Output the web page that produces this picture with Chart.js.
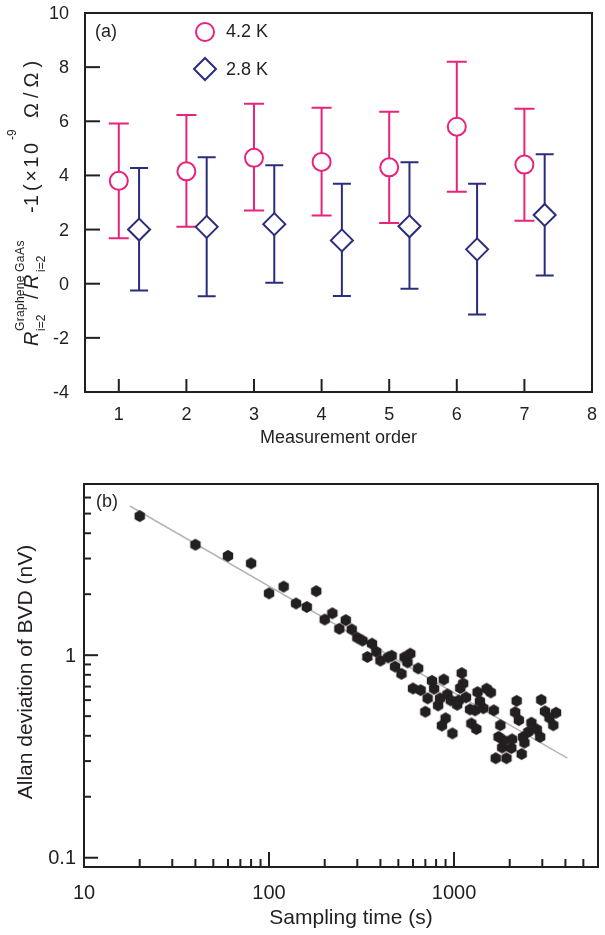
<!DOCTYPE html>
<html>
<head>
<meta charset="utf-8">
<script src="https://cdn.jsdelivr.net/npm/chart.js@4/dist/chart.umd.min.js"></script>
<style>
  html, body { margin: 0; padding: 0; background: #fff; }
  #wrap { position: relative; width: 605px; height: 935px; }
  canvas { position: absolute; left: 0; }
</style>
</head>
<body>
<div id="wrap">
  <canvas id="chartA" width="605" height="460" style="top:0"></canvas>
  <canvas id="chartB" width="605" height="475" style="top:460px"></canvas>
</div>
<script>
// ─────────────── DATA: panel (a) ───────────────
const order = [1, 2, 3, 4, 5, 6, 7];
const val42 = [3.8, 4.15, 4.65, 4.5, 4.3, 5.8, 4.4];
const hi42 = [5.92, 6.23, 6.65, 6.5, 6.35, 8.2, 6.46];
const lo42 = [1.68, 2.1, 2.7, 2.52, 2.24, 3.4, 2.33];
const val28 = [2.0, 2.1, 2.2, 1.6, 2.12, 1.27, 2.54];
const hi28 = [4.27, 4.67, 4.38, 3.69, 4.49, 3.69, 4.78];
const lo28 = [-0.25, -0.46, 0.04, -0.45, -0.19, -1.14, 0.3];
const shift28 = 0.3; // 2.8 K points sit a bit right of each order
const yTicksA = [-4, -2, 0, 2, 4, 6, 8, 10];
const xTicksA = [1, 2, 3, 4, 5, 6, 7, 8];

// ─────────────── DATA: panel (b) ───────────────
const tau = [20, 40, 60, 80, 100, 120, 140, 160, 180, 200, 220, 240, 260, 280, 300, 320, 340, 360, 380, 400,
  440, 460, 480, 520, 540, 560, 580, 600, 640, 660, 700, 720, 760, 780, 820, 840, 860, 880, 900, 920,
  960, 980, 1040, 1060, 1080, 1100, 1120, 1160, 1220, 1240, 1300, 1320, 1340, 1380, 1440, 1500, 1580, 1640, 1680, 1740,
  1780, 1820, 1860, 1920, 2040, 2060, 2140, 2180, 2240, 2320, 2360, 2400, 2520, 2620, 2800, 2920, 2960, 3100, 3280, 3440, 3560];
const adev = [4.86, 3.51, 3.09, 2.84, 2.02, 2.18, 1.80, 1.73, 2.07, 1.50, 1.61, 1.35, 1.49, 1.34, 1.22, 1.18, 0.98, 1.14, 1.04, 0.94,
  0.975, 0.994, 0.878, 0.809, 0.978, 0.922, 1.017, 0.685, 0.861, 0.672, 0.526, 0.612, 0.747, 0.683, 0.565, 0.612, 0.449, 0.758, 0.488, 0.640,
  0.598, 0.411, 0.569, 0.598, 0.689, 0.816, 0.725, 0.619, 0.540, 0.460, 0.534, 0.432, 0.657, 0.592, 0.547, 0.683, 0.655, 0.534, 0.310, 0.395,
  0.451, 0.350, 0.379, 0.310, 0.348, 0.384, 0.523, 0.595, 0.478, 0.325, 0.394, 0.370, 0.418, 0.464, 0.430, 0.395, 0.602, 0.528, 0.491, 0.451, 0.520];
const fitTau = [17.7, 4100];
const fitDev = [5.45, 0.31];
const xMajorB = [10, 100, 1000];
const yMajorB = [0.1, 1];

// ─────────────── STYLE ───────────────
const ink = '#231f20';
const pink = '#e8237b';
const navy = '#2b2c7c';
const FONT = '"Liberation Sans", Arial, sans-serif';

const frame = (ctx, a) => {
    ctx.save();
    ctx.strokeStyle = ink;
    ctx.lineWidth = 2;
    ctx.strokeRect(a.left, a.top, a.right - a.left, a.bottom - a.top);
    ctx.restore();
};

const errBars = (ctx, sx, sy, xs, lo, hi, color, cap) => {
    ctx.save();
    ctx.strokeStyle = color;
    ctx.lineWidth = 2;
    xs.forEach((xv, i) => {
        const px = sx.getPixelForValue(xv);
        const top = sy.getPixelForValue(hi[i]);
        const bot = sy.getPixelForValue(lo[i]);
        ctx.beginPath();
        ctx.moveTo(px, top); ctx.lineTo(px, bot);
        ctx.moveTo(px - cap, top); ctx.lineTo(px + cap, top);
        ctx.moveTo(px - cap, bot); ctx.lineTo(px + cap, bot);
        ctx.stroke();
    });
    ctx.restore();
};

// text drawn upward, starting at screen y0, baseline at screen x0
const vPieces = (ctx, x0, y0, pieces) => {
    ctx.save();
    ctx.translate(x0, y0);
    ctx.rotate(-Math.PI / 2);
    ctx.textAlign = 'left';
    ctx.textBaseline = 'alphabetic';
    pieces.forEach(p => {
        ctx.font = p.f;
        let u = p.u;
        for (const ch of p.t) {
            ctx.fillText(ch, u, p.dy || 0);
            u += ctx.measureText(ch).width + (p.sp || 0);
        }
    });
    ctx.restore();
};

// ─────────────── PANEL (a) ───────────────
const plugA = {
    id: 'plugA',
    beforeDatasetsDraw(chart) {
        const { ctx, scales: { x, y } } = chart;
        errBars(ctx, x, y, order, lo42, hi42, pink, 10);
        errBars(ctx, x, y, order.map(o => o + shift28), lo28, hi28, navy, 9);
    },
    afterDatasetsDraw(chart) {
        const { ctx, chartArea: a, scales: { x, y } } = chart;
        frame(ctx, a);
        ctx.save();
        ctx.strokeStyle = ink;
        ctx.lineWidth = 2;
        ctx.fillStyle = ink;
        ctx.font = '18px ' + FONT;
        // y ticks + labels
        ctx.textAlign = 'right';
        ctx.textBaseline = 'middle';
        yTicksA.forEach(v => {
            const py = y.getPixelForValue(v);
            ctx.beginPath(); ctx.moveTo(a.left, py); ctx.lineTo(a.left + 15, py); ctx.stroke();
            ctx.fillText(String(v), a.left - 16, py + 1);
        });
        // x ticks + labels
        ctx.textAlign = 'center';
        xTicksA.forEach(v => {
            const px = x.getPixelForValue(v);
            if (v < 8) { ctx.beginPath(); ctx.moveTo(px, a.bottom); ctx.lineTo(px, a.bottom - 13); ctx.stroke(); }
            ctx.fillText(String(v), px, a.bottom + 23);
        });
        ctx.fillText('Measurement order', (a.left + a.right) / 2, a.bottom + 46);

        // panel tag + legend
        ctx.textAlign = 'left';
        ctx.fillText('(a)', 95, 32);
        ctx.fillText('4.2 K', 226, 32);
        ctx.fillText('2.8 K', 226, 70);
        ctx.lineWidth = 2;
        ctx.strokeStyle = pink;
        ctx.beginPath(); ctx.arc(205, 32, 9, 0, Math.PI * 2); ctx.stroke();
        ctx.strokeStyle = navy;
        ctx.beginPath();
        ctx.moveTo(194, 69); ctx.lineTo(205, 58); ctx.lineTo(216, 69); ctx.lineTo(205, 80); ctx.closePath();
        ctx.stroke();
        ctx.restore();

        // y title
        ctx.save();
        ctx.fillStyle = ink;
        const big = '20px ' + FONT, bigI = 'italic 20px ' + FONT, sm = '12px ' + FONT;
        vPieces(ctx, 38, 346, [
            { t: 'R', f: bigI, u: 0 },
            { t: 'Graphene', f: sm, u: 15, dy: -14, sp: 0.3 },
            { t: 'i=2', f: sm, u: 15, dy: 7 },
            { t: '/', f: big, u: 47 },
            { t: 'R', f: bigI, u: 57 },
            { t: 'GaAs', f: sm, u: 74, dy: -14, sp: 0.5 },
            { t: 'i=2', f: sm, u: 74, dy: 7 },
            { t: '-1', f: big, u: 133 },
            { t: '(×10', f: big, u: 155, sp: 2.5 },
            { t: '-9', f: sm, u: 206, dy: -22 },
            { t: 'Ω/Ω)', f: big, u: 228, sp: 5 }
        ]);
        ctx.restore();
    }
};

new Chart(document.getElementById('chartA'), {
    type: 'scatter',
    data: {
        datasets: [
            {
                label: '4.2 K',
                data: order.map((o, i) => ({ x: o, y: val42[i] })),
                pointStyle: 'circle',
                pointRadius: 9,
                pointBorderWidth: 2,
                pointBorderColor: pink,
                pointBackgroundColor: '#fff'
            },
            {
                label: '2.8 K',
                data: order.map((o, i) => ({ x: o + shift28, y: val28[i] })),
                pointStyle: 'rectRot',
                pointRadius: 11,
                pointBorderWidth: 2,
                pointBorderColor: navy,
                pointBackgroundColor: '#fff'
            }
        ]
    },
    options: {
        responsive: false,
        animation: false,
        layout: { padding: { left: 85, right: 7, top: 8, bottom: 68 } },
        plugins: { legend: { display: false }, tooltip: { enabled: false } },
        scales: {
            x: { type: 'linear', min: 0.5, max: 8, display: false },
            y: { type: 'linear', min: -4, max: 10, display: false }
        }
    },
    plugins: [plugA]
});

// ─────────────── PANEL (b) ───────────────
const hexMarker = (r, color) => {
    const c = document.createElement('canvas');
    const s = Math.ceil(r * 2) + 2;
    c.width = s; c.height = s;
    const g = c.getContext('2d');
    g.fillStyle = color;
    g.beginPath();
    for (let k = 0; k < 6; k++) {
        const ang = -Math.PI / 2 + k * Math.PI / 3;
        const px = s / 2 + r * Math.cos(ang), py = s / 2 + r * Math.sin(ang);
        if (k === 0) g.moveTo(px, py); else g.lineTo(px, py);
    }
    g.closePath();
    g.fill();
    return c;
};

const plugB = {
    id: 'plugB',
    afterDatasetsDraw(chart) {
        const { ctx, chartArea: a, scales: { x, y } } = chart;
        frame(ctx, a);
        ctx.save();
        ctx.strokeStyle = ink;
        ctx.lineWidth = 2;
        ctx.fillStyle = ink;

        // x ticks (log): majors + minors
        [10, 100, 1000].forEach(d => {
            for (let m = 1; m <= 9; m++) {
                const v = m * d;
                if (v <= x.min || v >= x.max) continue;
                const px = x.getPixelForValue(v);
                const len = m === 1 ? 15 : 8;
                ctx.beginPath(); ctx.moveTo(px, a.bottom); ctx.lineTo(px, a.bottom - len); ctx.stroke();
            }
        });
        // y ticks (log)
        [0.1, 1].forEach(d => {
            for (let m = 1; m <= 9; m++) {
                const v = m * d;
                if (v < y.min || v >= y.max) continue;
                const py = y.getPixelForValue(v);
                const len = m === 1 ? 14 : 7;
                ctx.beginPath(); ctx.moveTo(a.left, py); ctx.lineTo(a.left + len, py); ctx.stroke();
            }
        });

        ctx.font = '20px ' + FONT;
        ctx.textAlign = 'center';
        ctx.textBaseline = 'middle';
        xMajorB.forEach(v => ctx.fillText(String(v), x.getPixelForValue(v), a.bottom + 26));
        ctx.textAlign = 'right';
        yMajorB.forEach(v => ctx.fillText(String(v), a.left - 8, y.getPixelForValue(v) + 1));

        ctx.font = '21px ' + FONT;
        ctx.textAlign = 'center';
        ctx.fillText('Sampling time (s)', 351, a.bottom + 51);
        ctx.font = '18px ' + FONT;
        ctx.textAlign = 'left';
        ctx.fillText('(b)', 96, a.top + 18);

        ctx.translate(26, 672 - 460);
        ctx.rotate(-Math.PI / 2);
        ctx.textAlign = 'center';
        ctx.font = '21px ' + FONT;
        ctx.fillText('Allan deviation of BVD (nV)', 0, 0);
        ctx.restore();
    }
};

new Chart(document.getElementById('chartB'), {
    data: {
        datasets: [
            {
                type: 'scatter',
                label: 'ADEV',
                data: tau.map((t, i) => ({ x: t, y: adev[i] })),
                pointStyle: hexMarker(6, ink),
                pointRadius: 6,
                order: 1
            },
            {
                type: 'line',
                label: 'fit',
                data: fitTau.map((t, i) => ({ x: t, y: fitDev[i] })),
                borderColor: '#b5b5b5',
                borderWidth: 1.5,
                pointRadius: 0,
                order: 2
            }
        ]
    },
    options: {
        responsive: false,
        animation: false,
        layout: { padding: { left: 84, right: 7, top: 24, bottom: 68 } },
        plugins: { legend: { display: false }, tooltip: { enabled: false } },
        scales: {
            x: { type: 'logarithmic', min: 10, max: 6000, display: false },
            y: { type: 'logarithmic', min: 0.09, max: 7, display: false }
        }
    },
    plugins: [plugB]
});
</script>
</body>
</html>
